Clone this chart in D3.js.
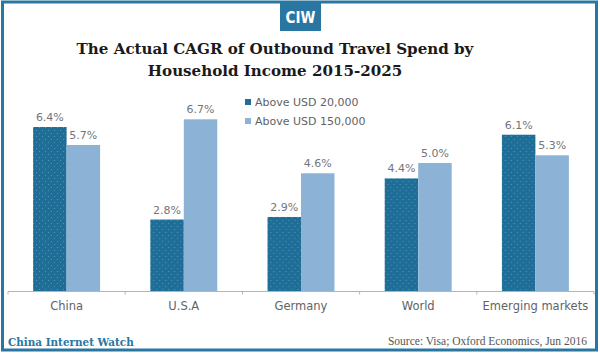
<!DOCTYPE html>
<html>
<head>
<meta charset="utf-8">
<script src="https://cdn.jsdelivr.net/npm/d3@7"></script>
<style>
  html, body { margin: 0; padding: 0; background: #fff; }
  svg { display: block; }
</style>
</head>
<body>
<div id="svg-container"></div>
<script>
const categories = ['China', 'U.S.A', 'Germany', 'World', 'Emerging markets']
const seriesNames = ['Above USD 20,000', 'Above USD 150,000']
const above20k = [6.4, 2.8, 2.9, 4.4, 6.1]
const above150k = [5.7, 6.7, 4.6, 5.0, 5.3]

const width = 600
const height = 354
const darkColor = '#1f6e97'
const lightColor = '#8cb3d6'
const frameColor = '#2a76a2'

const svg = d3
  .select('#svg-container')
  .append('svg')
  .attr('width', width)
  .attr('height', height)
  .attr('viewBox', `0 0 ${width} ${height}`)

// dotted texture on the dark bars
const defs = svg.append('defs')
const pattern = defs
  .append('pattern')
  .attr('id', 'dots')
  .attr('width', 6)
  .attr('height', 6)
  .attr('patternUnits', 'userSpaceOnUse')
pattern.append('rect').attr('width', 6).attr('height', 6).attr('fill', darkColor)
pattern.append('rect').attr('x', 1).attr('y', 1).attr('width', 1).attr('height', 1).attr('fill', '#4f93b8')
pattern.append('rect').attr('x', 4).attr('y', 4).attr('width', 1).attr('height', 1).attr('fill', '#4f93b8')

// frame
svg
  .append('rect')
  .attr('x', 2.5)
  .attr('y', 2)
  .attr('width', width - 6)
  .attr('height', height - 6)
  .attr('fill', 'none')
  .attr('stroke', frameColor)
  .attr('stroke-width', 3)

// logo
svg
  .append('rect')
  .attr('x', 280)
  .attr('y', 2)
  .attr('width', 41)
  .attr('height', 29)
  .attr('fill', frameColor)
svg
  .append('text')
  .attr('x', 300.5)
  .attr('y', 23)
  .attr('text-anchor', 'middle')
  .attr('fill', '#fff')
  .style('font', 'bold 15px "Liberation Sans Narrow", "DejaVu Sans Condensed", sans-serif')
  .text('CIW')

// title
const title = svg
  .append('text')
  .attr('text-anchor', 'middle')
  .attr('fill', '#1a1a1a')
  .style('font', 'bold 15.1px "DejaVu Serif", serif')
title.append('tspan').attr('x', 275).attr('y', 54).text('The Actual CAGR of Outbound Travel Spend by')
title.append('tspan').attr('x', 275).attr('y', 76).text('Household Income 2015-2025')

// scales
const x = d3.scaleBand().domain(categories).range([8, 594]).padding(0)
const xSeries = d3
  .scaleBand()
  .domain(seriesNames)
  .range([0, x.bandwidth()])
  .paddingInner(0)
  .paddingOuter(0.75)
const y = d3.scaleLinear().domain([0, 8]).range([291.5, 291.5 - 8 * 25.7])
const color = d3.scaleOrdinal().domain(seriesNames).range(['url(#dots)', lightColor])

const rows = categories.map((c, i) => ({
  category: c,
  values: [
    { series: seriesNames[0], value: above20k[i] },
    { series: seriesNames[1], value: above150k[i] },
  ],
}))

const groups = svg
  .append('g')
  .selectAll('g.group')
  .data(rows)
  .join('g')
  .attr('class', 'group')
  .attr('transform', d => `translate(${x(d.category)}, 0)`)

groups
  .selectAll('rect')
  .data(d => d.values)
  .join('rect')
  .attr('x', d => xSeries(d.series))
  .attr('y', d => y(d.value))
  .attr('width', xSeries.bandwidth())
  .attr('height', d => y(0) - y(d.value))
  .attr('fill', d => color(d.series))

groups
  .selectAll('text')
  .data(d => d.values)
  .join('text')
  .attr('x', d => xSeries(d.series) + xSeries.bandwidth() / 2)
  .attr('y', d => y(d.value) - 6)
  .attr('text-anchor', 'middle')
  .attr('fill', '#72767a')
  .style('font', '11px "DejaVu Sans", sans-serif')
  .text(d => `${d.value.toFixed(1)}%`)

// x axis
const axis = svg.append('g').attr('transform', `translate(0, ${y(0)})`)
axis
  .append('line')
  .attr('x1', x.range()[0])
  .attr('x2', x.range()[1])
  .attr('stroke', '#b5b5b5')
axis
  .selectAll('line.tick')
  .data([...categories.map(c => x(c)), x.range()[1]])
  .join('line')
  .attr('class', 'tick')
  .attr('x1', d => d)
  .attr('x2', d => d)
  .attr('y1', 0)
  .attr('y2', 3)
  .attr('stroke', '#b5b5b5')
axis
  .selectAll('text')
  .data(categories)
  .join('text')
  .attr('x', d => x(d) + x.bandwidth() / 2)
  .attr('y', 18)
  .attr('text-anchor', 'middle')
  .attr('fill', '#5f6366')
  .style('font', '11.5px "DejaVu Sans", sans-serif')
  .text(d => d)

// legend
const legend = svg
  .append('g')
  .selectAll('g')
  .data(seriesNames)
  .join('g')
  .attr('transform', (d, i) => `translate(245, ${102 + i * 19})`)
legend
  .append('rect')
  .attr('y', -3)
  .attr('width', 6)
  .attr('height', 6)
  .attr('fill', (d, i) => (i === 0 ? darkColor : lightColor))
legend
  .append('text')
  .attr('x', 10)
  .attr('dy', '0.35em')
  .attr('fill', '#5f6366')
  .style('font', '11px "DejaVu Sans", sans-serif')
  .text(d => d)

// footer
svg
  .append('text')
  .attr('x', 8)
  .attr('y', 346)
  .attr('fill', frameColor)
  .style('font', 'bold 10.4px "DejaVu Serif", serif')
  .text('China Internet Watch')
svg
  .append('text')
  .attr('x', 587)
  .attr('y', 345)
  .attr('text-anchor', 'end')
  .attr('fill', '#555')
  .style('font', '11.5px "Liberation Serif", serif')
  .text('Source: Visa; Oxford Economics,  Jun 2016')
</script>
</body>
</html>
